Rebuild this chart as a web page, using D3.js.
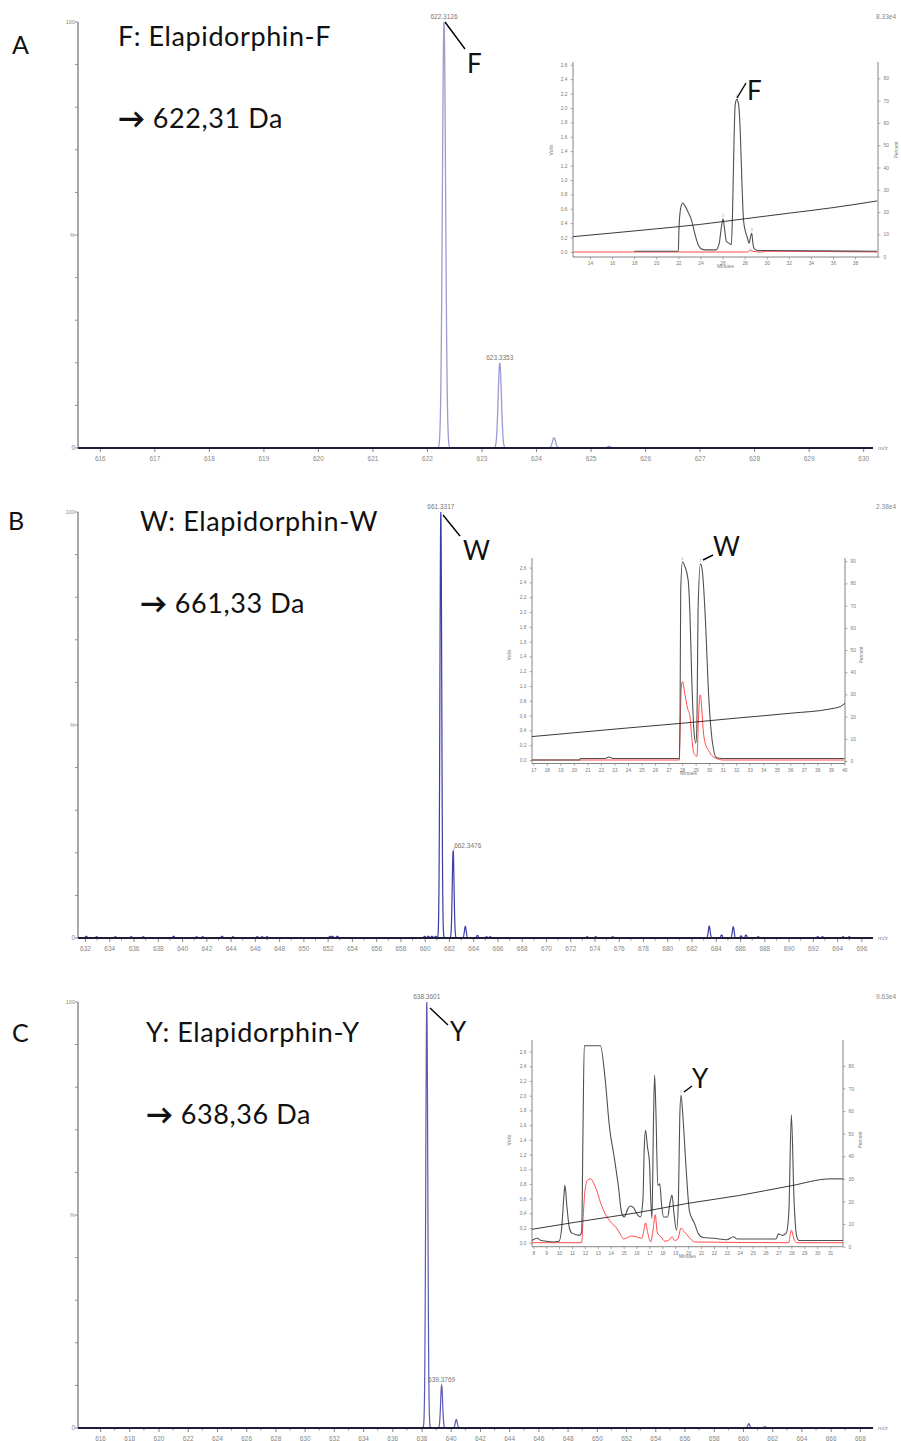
<!DOCTYPE html>
<html>
<head>
<meta charset="utf-8">
<script src="https://cdn.jsdelivr.net/npm/d3@7"></script>
<style>
  body { margin: 0; background: #fff; }
  svg { display: block; }
</style>
</head>
<body>
<script>
// ---------------- data ----------------
const panelLetters = ["A", "B", "C"];
const titles = ["F: Elapidorphin-F", "W: Elapidorphin-W", "Y: Elapidorphin-Y"];
const massTexts = ["622,31 Da", "661,33 Da", "638,36 Da"];
const peptideCodes = ["F", "W", "Y"];
const intensityMax = ["8.33e4", "2.38e4", "9.63e4"];

// mass spectra: m/z and relative intensity (%)
const mzA = [622.3126, 623.3353, 624.33, 625.34];
const intA = [100, 20, 2.4, 0.4];
const ticksA = d3.range(616, 631, 1);

const mzB = [661.3317, 662.3476, 663.35, 664.35, 665.1, 683.46, 684.48, 685.44, 686.08, 686.49,
             632.1, 632.96, 634.5, 635.8, 636.8, 639.3, 641.2, 641.7, 643.3, 644.2, 646.2, 646.6, 647.0,
             652.2, 652.4, 652.8, 660.0, 660.3, 660.6, 660.9, 665.4, 673.4, 674.1, 675.5, 687.5,
             692.4, 692.8, 694.5, 695.0];
const intB = [100, 20.5, 2.7, 0.6, 0.3, 2.8, 0.7, 2.6, 0.5, 0.7,
              0.4, 0.3, 0.3, 0.3, 0.3, 0.4, 0.3, 0.3, 0.4, 0.3, 0.3, 0.3, 0.3,
              0.4, 0.4, 0.4, 0.4, 0.4, 0.4, 0.4, 0.3, 0.3, 0.3, 0.3, 0.3,
              0.3, 0.3, 0.3, 0.3];
const ticksB = d3.range(632, 697, 2);

const mzC = [638.3601, 639.3769, 640.38, 660.4, 661.5];
const intC = [100, 10, 2, 1, 0.3];
const ticksC = d3.range(616, 669, 2);

const peakLabelsA = [["622.3126", 622.3126, 100], ["623.3353", 623.3353, 20]];
const peakLabelsB = [["661.3317", 661.3317, 100], ["662.3476", 662.3476, 20.5]];
const peakLabelsC = [["638.3601", 638.3601, 100], ["639.3769", 639.3769, 10]];

// HPLC chromatograms: [minutes, volts] and gradient [minutes, percent]
const traceA = [[18,0.01],[22.0,0.01],[22.05,0.3],[22.2,0.6],[22.4,0.68],[22.6,0.64],[22.9,0.55],[23.2,0.44],
  [23.5,0.25],[23.8,0.1],[24.1,0.04],[24.5,0.03],[25.4,0.03],[25.7,0.12],[25.9,0.35],[26.05,0.46],[26.2,0.3],
  [26.35,0.15],[26.6,0.12],[26.8,0.1],[26.9,0.5],[27.05,1.6],[27.15,2.05],[27.3,2.12],[27.45,2.05],[27.6,1.7],
  [27.75,1.0],[27.9,0.45],[28.05,0.3],[28.25,0.2],[28.4,0.12],[28.55,0.22],[28.65,0.26],[28.75,0.12],[28.9,0.04],
  [29.3,0.02],[30,0.02],[40,0.01]];
const redA = [[12.46,0],[28.3,0],[28.5,0.03],[28.7,0.01],[29.5,0.0],[30,0.01],[40,0]];
const gradA = [[12.46,9],[16,10.6],[20,12.5],[24,14.5],[28,17],[32,19.5],[36,22],[40,25]];
const peakNumsA = [["2",26.05,0.46],["1",27.3,2.12],["3",28.65,0.26]];

const traceB = [[16.9,0.0],[20.4,0.0],[20.5,0.02],[22.3,0.02],[22.6,0.04],[22.9,0.02],[27.8,0.02],[27.85,0.6],
  [27.9,2.3],[28.03,2.68],[28.2,2.62],[28.45,2.43],[28.58,1.98],[28.72,1.08],[28.87,0.41],[29.02,0.23],[29.1,0.5],
  [29.18,2.0],[29.36,2.65],[29.5,2.55],[29.76,1.76],[29.93,1.0],[30.1,0.5],[30.25,0.23],[30.55,0.03],[31,0.02],[40,0.02]];
const redB = [[16.9,0],[27.8,0],[27.84,0.3],[27.95,1.0],[28.03,1.06],[28.2,0.9],[28.4,0.7],[28.58,0.59],[28.72,0.3],
  [28.87,0.09],[29.1,0.05],[29.2,0.5],[29.3,0.85],[29.36,0.88],[29.45,0.7],[29.56,0.41],[29.75,0.2],[29.93,0.14],
  [30.2,0.06],[30.55,0.02],[31,0.0],[40,0.0]];
const gradB = [[16.9,11],[20,12.7],[24,14.9],[28,17],[32,19.3],[36,21.5],[39,23.5],[39.7,24.5],[40.05,26]];
const peakNumsB = [["1",28.03,2.68],["2",29.36,2.65]];

const traceC = [[7.9,0.03],[8.3,0.06],[8.6,0.03],[9,0.02],[9.5,0.01],[10,0.02],[10.2,0.2],[10.4,0.7],[10.45,0.78],
  [10.6,0.5],[10.8,0.2],[11.0,0.13],[11.6,0.1],[11.75,0.15],[11.85,1.5],[11.95,2.68],[13.2,2.68],[13.55,2.26],
  [13.9,1.58],[14.3,1.13],[14.6,0.76],[14.85,0.4],[15.05,0.35],[15.3,0.45],[15.5,0.5],[15.8,0.47],[16.0,0.4],
  [16.3,0.35],[16.5,0.6],[16.6,1.3],[16.7,1.53],[16.85,1.3],[17.0,1.1],[17.1,0.6],[17.2,0.33],[17.3,1.5],[17.4,2.28],
  [17.5,1.8],[17.65,0.78],[17.8,0.8],[17.95,0.5],[18.1,0.35],[18.4,0.35],[18.6,0.55],[18.75,0.65],[18.9,0.4],
  [19.1,0.17],[19.25,0.6],[19.35,1.7],[19.45,2.01],[19.6,1.7],[19.85,0.99],[20.1,0.43],[20.5,0.26],[20.8,0.12],
  [21.15,0.07],[22,0.06],[23.0,0.04],[23.5,0.08],[23.8,0.05],[26.8,0.05],[27.0,0.12],[27.3,0.1],[27.6,0.13],
  [27.8,0.4],[28.0,1.74],[28.2,0.6],[28.4,0.1],[28.6,0.03],[32,0.03]];
const redC = [[7.9,0],[11.75,0],[11.85,0.3],[12.0,0.7],[12.2,0.85],[12.45,0.87],[12.7,0.8],[12.9,0.72],[13.2,0.55],
  [13.55,0.4],[14.0,0.28],[14.45,0.2],[14.8,0.1],[15.0,0.05],[15.3,0.07],[15.6,0.09],[16.0,0.08],[16.4,0.06],
  [16.55,0.15],[16.7,0.27],[16.85,0.15],[17.1,0.01],[17.3,0.2],[17.45,0.38],[17.6,0.15],[17.75,0.1],[17.9,0.08],
  [18.2,0.02],[18.55,0.04],[18.75,0.08],[18.95,0.03],[19.2,0.05],[19.45,0.2],[19.7,0.15],[20.1,0.07],[20.5,0.01],
  [27.8,0.0],[27.9,0.1],[28.0,0.17],[28.2,0.05],[28.4,0],[32,0]];
const gradC = [[7.9,7.7],[12,11.5],[16,15],[20,19.2],[24,22.7],[28,27],[31,30],[32,30]];
const peakNumsC = [["1",19.45,2.01]];

const voltTicks = d3.range(0, 2.61, 0.2);

// ---------------- drawing ----------------
const svg = d3.select("body").append("svg").attr("width", 901).attr("height", 1441);
const TXT = "Lato, 'Open Sans', sans-serif";
const SMALL = "'Liberation Sans', Arial, sans-serif";

function drawSpectrum(p) {
  const g = svg.append("g");
  const x = d3.scaleLinear().domain(p.domain).range([78, 873]);
  const y = d3.scaleLinear().domain([0, 100]).range([p.bottom, p.top]);

  // y axis
  g.append("line").attr("x1", 78).attr("x2", 78).attr("y1", p.top).attr("y2", p.bottom)
    .attr("stroke", "#555").attr("stroke-width", 1);
  d3.range(0, 101, 10).forEach(v => {
    g.append("line").attr("x1", 75).attr("x2", 78).attr("y1", y(v)).attr("y2", y(v))
      .attr("stroke", "#777").attr("stroke-width", 0.8);
  });
  g.append("text").attr("x", 75).attr("y", y(100) + 2).attr("text-anchor", "end")
    .attr("font-size", 5.5).attr("fill", "#888").attr("font-family", SMALL).text("100");
  g.append("text").attr("x", 75).attr("y", y(50) + 2).attr("text-anchor", "end")
    .attr("font-size", 5.5).attr("fill", "#888").attr("font-family", SMALL).text("%");
  g.append("text").attr("x", 75).attr("y", y(0) + 2).attr("text-anchor", "end")
    .attr("font-size", 6.5).attr("fill", "#888").attr("font-family", SMALL).text("0");

  // peaks as narrow profile shapes
  const line = d3.line();
  p.mz.forEach((m, i) => {
    const cx = x(m), h = p.inten[i], s = p.sigma, pts = [];
    for (let d = -4 * s; d <= 4 * s + 1e-9; d += s / 6) {
      pts.push([cx + d, y(h * Math.exp(-0.5 * (d / s) * (d / s)))]);
    }
    g.append("path").attr("d", line(pts)).attr("fill", "none")
      .attr("stroke", p.color).attr("stroke-width", p.width);
  });

  // x axis
  const ax = g.append("g").attr("transform", `translate(0,${p.bottom})`)
    .call(d3.axisBottom(x).tickValues(p.ticks).tickSize(4).tickFormat(d3.format("d")));
  ax.select(".domain").remove();
  ax.selectAll(".tick line").attr("stroke", "#666").attr("stroke-width", 0.8);
  ax.selectAll(".tick text").attr("font-size", 6.5).attr("fill", "#888").attr("font-family", SMALL).attr("dy", "0.9em");
  if (p.minor) {
    p.minor.forEach(v => g.append("line").attr("x1", x(v)).attr("x2", x(v))
      .attr("y1", p.bottom).attr("y2", p.bottom + 2.5).attr("stroke", "#777").attr("stroke-width", 0.8));
  }
  g.append("line").attr("x1", 78).attr("x2", 873).attr("y1", p.bottom).attr("y2", p.bottom)
    .attr("stroke", "#1d1d3a").attr("stroke-width", 1.8);
  g.append("text").attr("x", 878).attr("y", p.bottom + 2).attr("font-size", 6)
    .attr("fill", "#888").attr("font-family", SMALL).text("m/z");
  g.append("text").attr("x", 896).attr("y", p.top - 3).attr("text-anchor", "end").attr("font-size", 6.5)
    .attr("fill", "#888").attr("font-family", SMALL).text(p.max);

  // peak labels
  p.labels.forEach(([t, m, h], i) => {
    const lx = x(m) + (p.labelShift[i] || 0);
    g.append("text").attr("x", lx).attr("y", y(h) - 3).attr("text-anchor", p.labelShift[i] ? "start" : "middle")
      .attr("font-size", 6.5).attr("fill", "#777").attr("font-family", SMALL).text(t);
    if (p.labelShift[i]) {
      g.append("line").attr("x1", x(m)).attr("y1", y(h)).attr("x2", lx + 1).attr("y2", y(h) - 4)
        .attr("stroke", "#888").attr("stroke-width", 0.6);
    }
  });
  return { x, y, g };
}

function drawInset(c) {
  const g = svg.append("g");
  const x = d3.scaleLinear().domain(c.tDomain).range([c.x0, c.x1]);
  const yL = d3.scaleLinear().domain([0, 2.6]).range([c.y0, c.y0 - 2.6 * c.pxPerV]);
  // right axis in percent: 10 % per pxPer10 pixels
  const yR = d3.scaleLinear().domain([0, 10]).range([c.rZero, c.rZero - c.pxPer10]);
  const clipId = "clip" + c.id;
  svg.append("clipPath").attr("id", clipId).append("rect")
    .attr("x", c.x0).attr("y", c.top).attr("width", c.x1 - c.x0).attr("height", c.axisY - c.top);

  const fmt = v => d3.format(".1f")(v).replace(".", c.sep);
  const styleAxis = (a, size) => {
    a.select(".domain").attr("stroke", "#666").attr("stroke-width", 0.8);
    a.selectAll(".tick line").attr("stroke", "#777").attr("stroke-width", 0.6);
    a.selectAll(".tick text").attr("font-size", size).attr("fill", "#777").attr("font-family", SMALL);
  };
  const la = g.append("g").attr("transform", `translate(${c.x0},0)`)
    .call(d3.axisLeft(yL).tickValues(voltTicks).tickFormat(fmt).tickSize(2.5).tickSizeOuter(0));
  la.select(".domain").attr("d", `M0,${c.top}V${c.axisY}`);
  styleAxis(la, 4.8);
  const ra = g.append("g").attr("transform", `translate(${c.x1},0)`)
    .call(d3.axisRight(yR).tickValues(c.rTicks).tickFormat(d3.format("d")).tickSize(2.5).tickSizeOuter(0));
  ra.select(".domain").attr("d", `M0,${c.top}V${c.axisY}`);
  styleAxis(ra, 4.8);
  const ba = g.append("g").attr("transform", `translate(0,${c.axisY})`)
    .call(d3.axisBottom(x).tickValues(c.tTicks).tickFormat(d3.format("d")).tickSize(2.5).tickSizeOuter(0));
  ba.select(".domain").attr("d", `M${c.x0},0H${c.x1}`);
  styleAxis(ba, 4.8);
  ba.selectAll(".tick text").attr("dy", "0.6em");

  g.append("text").attr("transform", `translate(${c.voltsPos[0]},${c.voltsPos[1]}) rotate(-90)`)
    .attr("text-anchor", "middle").attr("font-size", 5).attr("fill", "#777").attr("font-family", SMALL).text("Volts");
  g.append("text").attr("transform", `translate(${c.percentPos[0]},${c.percentPos[1]}) rotate(-90)`)
    .attr("text-anchor", "middle").attr("font-size", 5).attr("fill", "#777").attr("font-family", SMALL).text("Percent");
  g.append("text").attr("x", (c.x0 + c.x1) / 2).attr("y", c.axisY + 11).attr("text-anchor", "middle")
    .attr("font-size", 4.8).attr("fill", "#777").attr("font-family", SMALL).text("Minutes");

  const plot = g.append("g").attr("clip-path", `url(#${clipId})`);
  const lv = d3.line().x(d => x(d[0])).y(d => yL(d[1])).curve(d3.curveMonotoneX);
  const lp = d3.line().x(d => x(d[0])).y(d => yR(d[1])).curve(d3.curveMonotoneX);
  plot.append("path").attr("d", lv(c.red)).attr("fill", "none").attr("stroke", "#ff4a4a").attr("stroke-width", 1);
  plot.append("path").attr("d", lv(c.black)).attr("fill", "none").attr("stroke", "#505050").attr("stroke-width", 1.1);
  plot.append("path").attr("d", lp(c.grad)).attr("fill", "none").attr("stroke", "#222").attr("stroke-width", 0.9);

  c.nums.forEach(([t, m, v]) => {
    g.append("text").attr("x", x(m)).attr("y", yL(v) - 2).attr("text-anchor", "middle")
      .attr("font-size", 3.5).attr("fill", "#888").attr("font-family", SMALL).text(t);
  });
  return { x, yL };
}

function label(txt, x, y, size, spacing) {
  return svg.append("text").attr("x", x).attr("y", y).attr("font-size", size)
    .attr("letter-spacing", spacing || 0)
    .attr("font-family", TXT).attr("fill", "#111").text(txt);
}
function pointer(x1, y1, x2, y2) {
  svg.append("line").attr("x1", x1).attr("y1", y1).attr("x2", x2).attr("y2", y2)
    .attr("stroke", "#000").attr("stroke-width", 1.4);
}

// ---- panel A ----
drawSpectrum({ top: 22, bottom: 448, domain: [615.6, 630.18], mz: mzA, inten: intA, sigma: 1.6,
  color: "#9c9cd4", width: 1.3, ticks: ticksA, minor: null, max: intensityMax[0],
  labels: peakLabelsA, labelShift: [0, 0] });
drawInset({ id: "A", x0: 573, x1: 878, top: 62, y0: 252, pxPerV: 72, axisY: 257,
  tDomain: [12.46, 40.08], tTicks: d3.range(14, 39, 2), sep: ".",
  rZero: 256.7, pxPer10: 22.3, rTicks: d3.range(0, 81, 10),
  voltsPos: [553, 150], percentPos: [898, 150],
  black: traceA, red: redA, grad: gradA, nums: peakNumsA });

// ---- panel B ----
drawSpectrum({ top: 512, bottom: 938, domain: [631.42, 696.96], mz: mzB, inten: intB, sigma: 0.9,
  color: "#3c3ca6", width: 1.2, ticks: ticksB, minor: d3.range(633, 697, 2), max: intensityMax[1],
  labels: peakLabelsB, labelShift: [0, 1] });
drawInset({ id: "B", x0: 532, x1: 845, top: 558, y0: 760, pxPerV: 74, axisY: 763.5,
  tDomain: [16.9, 40.05], tTicks: d3.range(17, 41, 1), sep: ",",
  rZero: 761, pxPer10: 22.2, rTicks: d3.range(0, 91, 10),
  voltsPos: [511, 655], percentPos: [863, 655],
  black: traceB, red: redB, grad: gradB, nums: peakNumsB });

// ---- panel C ----
drawSpectrum({ top: 1002, bottom: 1428, domain: [614.49, 668.9], mz: mzC, inten: intC, sigma: 1.0,
  color: "#5a5ab4", width: 1.2, ticks: ticksC, minor: d3.range(617, 669, 2), max: intensityMax[2],
  labels: peakLabelsC, labelShift: [0, 0] });
drawInset({ id: "C", x0: 532, x1: 843, top: 1040, y0: 1242.7, pxPerV: 73.5, axisY: 1246.7,
  tDomain: [7.9, 32.0], tTicks: d3.range(8, 32, 1), sep: ",",
  rZero: 1246.7, pxPer10: 22.6, rTicks: d3.range(0, 81, 10),
  voltsPos: [511, 1140], percentPos: [862, 1140],
  black: traceC, red: redC, grad: gradC, nums: peakNumsC });

// ---- titles and annotations ----
const letterPos = [[12, 54], [8, 530], [12, 1042]];
const titlePos = [[118, 46], [140, 531], [146, 1042]];
const massPos = [[118, 128], [140, 613], [146, 1124]];
panelLetters.forEach((t, i) => label(t, letterPos[i][0], letterPos[i][1], 25));
titles.forEach((t, i) => label(t, titlePos[i][0], titlePos[i][1], 27, 0.6));
massTexts.forEach((t, i) => {
  const el = label("", massPos[i][0], massPos[i][1], 27, 0.6);
  el.append("tspan").attr("font-weight", 900).text("\u2192 ");
  el.append("tspan").text(t);
});

// pointers to the main MS peak and the HPLC peak
const mainCode = [[467, 73, 445, 22, 465, 49], [463, 560, 443, 515, 460, 536], [450, 1041, 430, 1008, 448, 1025]];
const insetCode = [[747, 100, 737, 98, 746, 83], [713, 556, 703, 560, 713, 555], [692, 1088, 684, 1092, 692, 1086]];
peptideCodes.forEach((t, i) => {
  const m = mainCode[i], s = insetCode[i];
  label(t, m[0], m[1], 26);
  pointer(m[2], m[3], m[4], m[5]);
  label(t, s[0], s[1], 26);
  pointer(s[2], s[3], s[4], s[5]);
});
</script>
</body>
</html>
